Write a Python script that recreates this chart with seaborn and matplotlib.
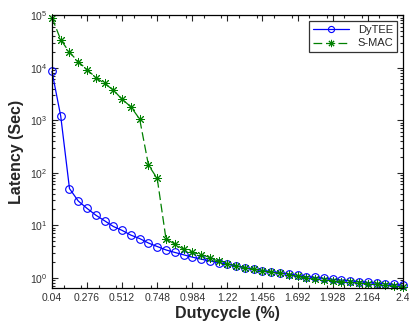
import numpy as np
import matplotlib
matplotlib.use("Agg")
import matplotlib.pyplot as plt
import pandas as pd
import seaborn as sns
from matplotlib.ticker import FixedLocator, MultipleLocator

sns.set_style("ticks")
plt.rcParams['font.family'] = ['Liberation Sans', 'DejaVu Sans']
plt.rcParams['mathtext.fontset'] = 'custom'
plt.rcParams['mathtext.rm'] = 'Liberation Sans'

# ==========================
# DADOS
# ==========================
dutycycle = np.round(np.linspace(0.04, 2.4, 41), 3)

latencia_dytee = [8500, 1200, 50, 29, 21, 15.6, 12.2, 9.5, 8.0, 6.5,
                  5.6, 4.6, 3.95, 3.4, 3.05, 2.75, 2.48, 2.27, 2.1, 1.95,
                  1.82, 1.69, 1.57, 1.46, 1.38, 1.31, 1.26, 1.19, 1.11, 1.06,
                  1.02, 0.98, 0.94, 0.91, 0.88, 0.85, 0.82, 0.79, 0.77, 0.75,
                  0.72]

latencia_smac = [90000, 34000, 19600, 13000, 9200, 6500, 5000, 3750, 2500, 1800,
                 1050, 140, 78, 5.5, 4.4, 3.5, 3.05, 2.78, 2.44, 2.05,
                 1.85, 1.70, 1.57, 1.46, 1.37, 1.28, 1.22, 1.15, 1.07, 1.0,
                 0.95, 0.91, 0.88, 0.85, 0.82, 0.80, 0.77, 0.75, 0.72, 0.70,
                 0.66]

ticks_x = [0.04, 0.276, 0.512, 0.748, 0.984, 1.22, 1.456, 1.692, 1.928, 2.164, 2.4]
rotulos_x = ['0.04', '0.276', '0.512', '0.748', '0.984', '1.22', '1.456', '1.692', '1.928', '2.164', '2.4']

df = pd.DataFrame({"dutycycle": dutycycle,
                   "DyTEE": latencia_dytee,
                   "S-MAC": latencia_smac})

# ==========================
# GRÁFICO
# ==========================
fig = plt.figure(figsize=(4.09, 3.22), dpi=100)
ax = fig.add_axes([0.127, 0.106, 0.858, 0.847])

sns.lineplot(data=df, x="dutycycle", y="DyTEE", ax=ax, color='#0000ff',
             marker='o', markersize=5.5, markerfacecolor='none',
             markeredgecolor='#0000ff', markeredgewidth=0.8, linewidth=0.9,
             label='DyTEE', clip_on=False)
sns.lineplot(data=df, x="dutycycle", y="S-MAC", ax=ax, color='#008000',
             marker=(8, 2, 0), markersize=6.5, markeredgecolor='#008000',
             markeredgewidth=0.7, linewidth=0.9, dashes=(7, 3), label='S-MAC',
             clip_on=False)

ax.set_yscale('log')
ax.set_ylim(0.645, 1e5)
ax.set_xlim(0.04, 2.4)
ax.xaxis.set_major_locator(FixedLocator(ticks_x))
ax.set_xticklabels(rotulos_x)
ax.xaxis.set_minor_locator(MultipleLocator(0.118))

ax.tick_params(which='both', direction='in', top=True, right=True,
               labelsize=7.5, labelcolor='#333333', width=0.8)
ax.tick_params(which='major', length=4)
ax.tick_params(which='minor', length=2)
for s in ax.spines.values():
    s.set_linewidth(0.9)
    s.set_color('black')

ax.set_xlabel('Dutycycle (%)', fontsize=11.5, fontweight='bold', labelpad=2)
ax.set_ylabel('Latency (Sec)', fontsize=11.5, fontweight='bold', labelpad=4)

leg = ax.legend(loc='upper right', fontsize=8, fancybox=False, frameon=True,
                edgecolor='black', borderaxespad=0.5, handlelength=3.2,
                borderpad=0.35, labelspacing=0.35, markerscale=0.8)
leg.get_frame().set_linewidth(0.9)

fig.savefig('out.png', dpi=100)
